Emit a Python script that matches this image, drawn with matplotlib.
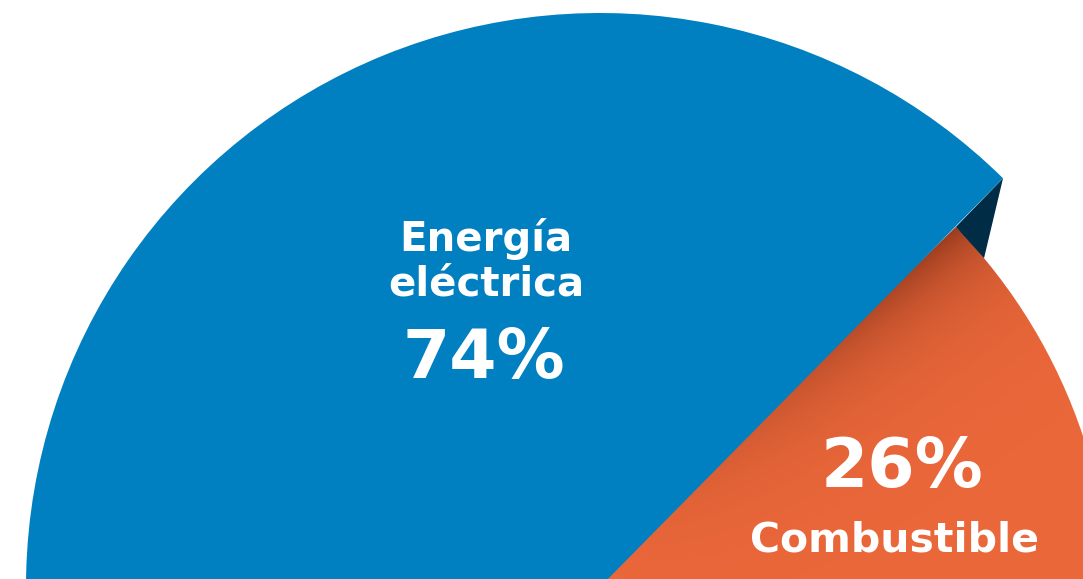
import numpy as np
import matplotlib.pyplot as plt
from matplotlib.patches import Wedge, Polygon

# chart data
labels = ["Energía\neléctrica", "Combustible"]
values = [74, 26]
colors = ["#0080C0", "#EA673A"]
side_color = "#002D45"

W, H = 1083, 579
fig = plt.figure(figsize=(W / 100, H / 100), dpi=100)
ax = fig.add_axes([0, 0, 1, 1])
ax.set_xlim(0, W)
ax.set_ylim(0, H)
ax.set_aspect("equal")
ax.axis("off")

# pie geometry: blue slice raised, orange slice on a lower layer
cx, cy, R_top = 600, -8, 574
ox, oy, R_low = 563, -30, 548
start = 45.4

total = sum(values)
spans = [v / total * 360 for v in values]
a_blue = (start, start + spans[0])
low_end = 44.2
a_orng = (low_end - spans[1] - 10, low_end)

orange = Wedge((ox, oy), R_low, a_orng[0], a_orng[1], facecolor=colors[1], edgecolor="none", zorder=1)
ax.add_patch(orange)

# shadow on the orange slice along the edge of the raised blue slice
xs = np.linspace(0, W, 542)
ys = np.linspace(0, H, 290)
X, Y = np.meshgrid(xs, ys)
th = np.radians(start)
ux, uy = np.cos(th), np.sin(th)
along = (X - cx) * ux + (Y - cy) * uy
perp = (X - cx) * uy - (Y - cy) * ux
alpha = 0.55 * np.exp(-np.clip(perp, 0, None) / 45.0) * np.clip(along / R_low, 0, 1) ** 1.5
img = np.zeros((len(ys), len(xs), 4))
img[..., 3] = np.clip(alpha, 0, 1)
img[..., 0] = 0.25
img[..., 1] = 0.05
im = ax.imshow(img, extent=(0, W, 0, H), origin="lower", zorder=2, interpolation="bilinear")
im.set_clip_path(orange)

# dark side face of the raised slice
A = (cx + R_top * np.cos(th), cy + R_top * np.sin(th))
tb = np.radians(low_end)
B = (ox + R_low * np.cos(tb), oy + R_low * np.sin(tb))
tc = np.radians(39.8)
C = (ox + R_low * np.cos(tc), oy + R_low * np.sin(tc))
ax.add_patch(Polygon([A, B, C], closed=True, facecolor=side_color, edgecolor="none", zorder=3))

ax.add_patch(Wedge((cx, cy), R_top, a_blue[0], a_blue[1], facecolor=colors[0], edgecolor="none", zorder=4))

font = "DejaVu Sans"
ax.text(486, H - 261, labels[0], ha="center", va="center", color="white",
        fontsize=29, fontweight="semibold", family=font, linespacing=1.15, zorder=5)
ax.text(484, H - 359, f"{values[0]}%", ha="center", va="center", color="white",
        fontsize=49, fontweight="bold", family=font, zorder=5)
ax.text(902, H - 468, f"{values[1]}%", ha="center", va="center", color="white",
        fontsize=49, fontweight="bold", family=font, zorder=5)
ax.text(895, H - 540, labels[1], ha="center", va="center", color="white",
        fontsize=29.5, fontweight="semibold", family=font, zorder=5)

fig.savefig("out.png", dpi=100)
